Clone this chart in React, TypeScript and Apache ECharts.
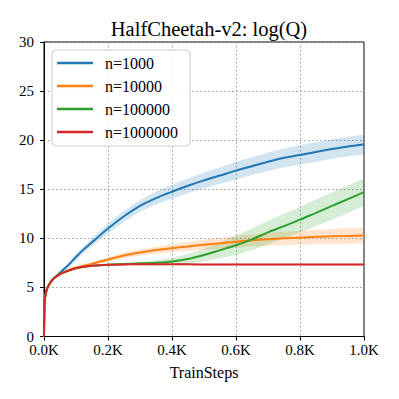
import React, { useEffect, useRef } from "react";
import * as echarts from "echarts";

const steps = [0, 2, 5, 10, 20, 30, 40, 50, 60, 80, 100, 125, 150, 200, 250, 300, 350, 400, 450, 500, 550, 600, 650, 700, 750, 800, 850, 900, 950, 1000];

const names = ["n=1000", "n=10000", "n=100000", "n=1000000"];
const colors = ["#1f77b4", "#ff7f0e", "#2ca02c", "#d62728"];

const meanN1000 = [0, 3.6, 4.3, 4.9, 5.5, 5.9, 6.2, 6.5, 6.8, 7.4, 8.1, 8.9, 9.6, 11.0, 12.25, 13.3, 14.1, 14.75, 15.35, 15.9, 16.4, 16.9, 17.35, 17.8, 18.2, 18.5, 18.8, 19.1, 19.35, 19.55];
const spreadN1000 = [0, 0, 0.05, 0.1, 0.1, 0.15, 0.15, 0.2, 0.2, 0.25, 0.3, 0.35, 0.4, 0.5, 0.55, 0.6, 0.65, 0.7, 0.75, 0.8, 0.85, 0.9, 0.9, 0.95, 0.95, 1.0, 1.0, 1.0, 1.0, 1.0];

const meanN10000 = [0, 3.6, 4.3, 4.9, 5.5, 5.9, 6.15, 6.35, 6.5, 6.8, 7.0, 7.2, 7.4, 7.85, 8.25, 8.55, 8.8, 9.0, 9.17, 9.35, 9.5, 9.65, 9.8, 9.9, 10.0, 10.05, 10.15, 10.2, 10.25, 10.3];
const spreadN10000 = [0, 0, 0.05, 0.05, 0.05, 0.05, 0.1, 0.1, 0.1, 0.15, 0.15, 0.2, 0.2, 0.25, 0.3, 0.3, 0.35, 0.4, 0.45, 0.5, 0.55, 0.6, 0.6, 0.65, 0.7, 0.7, 0.75, 0.75, 0.8, 0.8];

const meanN100000 = [0, 3.6, 4.3, 4.9, 5.5, 5.9, 6.15, 6.35, 6.5, 6.75, 6.95, 7.1, 7.2, 7.32, 7.38, 7.45, 7.52, 7.65, 7.9, 8.3, 8.8, 9.3, 9.9, 10.6, 11.25, 11.9, 12.6, 13.3, 14.0, 14.7];
const spreadN100000 = [0, 0, 0.05, 0.05, 0.05, 0.05, 0.05, 0.05, 0.05, 0.05, 0.05, 0.05, 0.05, 0.08, 0.1, 0.15, 0.25, 0.35, 0.5, 0.65, 0.8, 1.0, 1.1, 1.2, 1.25, 1.3, 1.35, 1.4, 1.4, 1.4];

const meanN1000000 = [0, 3.6, 4.3, 4.9, 5.5, 5.9, 6.15, 6.35, 6.5, 6.75, 6.95, 7.1, 7.2, 7.3, 7.34, 7.35, 7.35, 7.35, 7.35, 7.34, 7.34, 7.34, 7.34, 7.33, 7.33, 7.33, 7.33, 7.33, 7.33, 7.33];
const spreadN1000000 = [0, 0, 0.05, 0.05, 0.05, 0.05, 0.05, 0.05, 0.05, 0.05, 0.05, 0.05, 0.05, 0.08, 0.1, 0.1, 0.1, 0.1, 0.1, 0.1, 0.1, 0.1, 0.1, 0.1, 0.1, 0.1, 0.1, 0.1, 0.1, 0.1];

const means = [meanN1000, meanN10000, meanN100000, meanN1000000];
const spreads = [spreadN1000, spreadN10000, spreadN100000, spreadN1000000];

const xTicks = [0, 200, 400, 600, 800, 1000];

const FONT = "Liberation Serif";

function hexA(hex: string, a: number) {
  const r = parseInt(hex.slice(1, 3), 16);
  const g = parseInt(hex.slice(3, 5), 16);
  const b = parseInt(hex.slice(5, 7), 16);
  return `rgba(${r},${g},${b},${a})`;
}

export default function App() {
  const ref = useRef<HTMLDivElement>(null);
  useEffect(() => {
    if (!ref.current) return;
    document.body.style.margin = "0";
    const chart = echarts.init(ref.current, undefined, { renderer: "svg" });
    const series: any[] = [];
    names.forEach((name, i) => {
      const m = means[i];
      const s = spreads[i];
      series.push({
        name: name + " band",
        type: "custom",
        silent: true,
        data: [[0, 0]],
        encode: { x: 0, y: 1 },
        renderItem: (params: any, api: any) => {
          const upper = steps.map((x, k) => api.coord([x, m[k] + s[k]]));
          const lower = steps.map((x, k) => api.coord([x, m[k] - s[k]])).reverse();
          return {
            type: "polygon",
            shape: { points: upper.concat(lower), smooth: 0 },
            style: { fill: hexA(colors[i], 0.2), stroke: "none" },
          };
        },
      });
      series.push({
        name,
        type: "line",
        data: steps.map((x, k) => [x, m[k]]),
        showSymbol: false,
        smooth: 0.3,
        lineStyle: { color: colors[i], width: 2 },
        itemStyle: { color: colors[i] },
      });
    });

    chart.setOption({
      animation: false,
      title: {
        text: "HalfCheetah-v2: log(Q)",
        left: 204,
        textAlign: "center",
        top: 13,
        textStyle: { fontFamily: FONT, fontSize: 20.5, fontWeight: "normal", color: "#000" },
      },
      legend: {
        data: names,
        orient: "vertical",
        left: 52,
        top: 50,
        icon: "rect",
        itemWidth: 36,
        itemHeight: 2.5,
        itemGap: 5,
        padding: [4, 12, 5, 5],
        backgroundColor: "rgba(255,255,255,0.85)",
        borderColor: "#cccccc",
        borderWidth: 1,
        borderRadius: 4,
        textStyle: { fontFamily: FONT, fontSize: 16, color: "#000", padding: [0, 0, 0, 7], lineHeight: 18 },
      },
      grid: {
        left: 44,
        right: 35,
        top: 42,
        bottom: 62.5,
        show: true,
        borderColor: "#000",
        borderWidth: 1,
      },
      xAxis: {
        type: "value",
        min: 0,
        max: 1000,
        interval: 200,
        name: "TrainSteps",
        nameLocation: "middle",
        nameGap: 28,
        nameTextStyle: { fontFamily: FONT, fontSize: 16, color: "#000" },
        axisLine: { show: true, lineStyle: { color: "#000", width: 1 } },
        axisTick: { show: true, length: 4, lineStyle: { color: "#000" } },
        axisLabel: {
          fontFamily: FONT,
          fontSize: 15,
          color: "#000",
          margin: 6,
          formatter: (v: number) => (xTicks.includes(v) ? (v / 1000).toFixed(1) + "K" : ""),
        },
        splitLine: { show: true, lineStyle: { color: "#999", type: [1.5, 2.5], width: 1 } },
      },
      yAxis: {
        type: "value",
        min: 0,
        max: 30,
        interval: 5,
        axisLine: { show: true, lineStyle: { color: "#000", width: 1 } },
        axisTick: { show: true, length: 4, lineStyle: { color: "#000" } },
        axisLabel: { fontFamily: FONT, fontSize: 15, color: "#000", margin: 10 },
        splitLine: { show: true, lineStyle: { color: "#999", type: [1.5, 2.5], width: 1 } },
      },
      series,
    });
    return () => chart.dispose();
  }, []);
  return <div ref={ref} style={{ width: 399, height: 399 }} />;
}
